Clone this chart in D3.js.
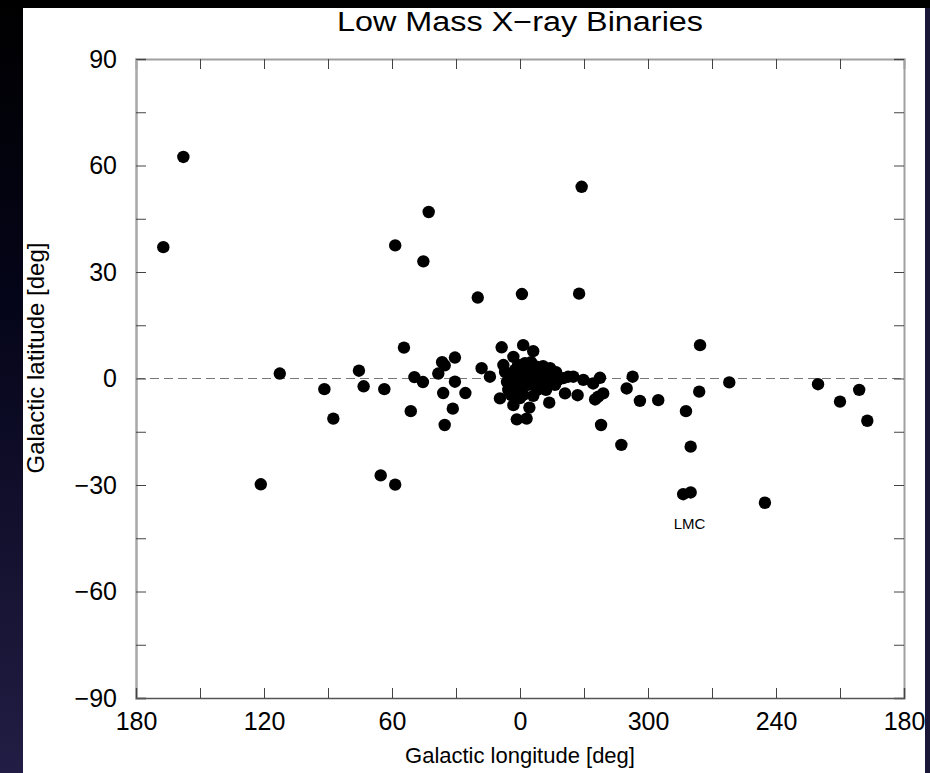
<!DOCTYPE html>
<html>
<head>
<meta charset="utf-8">
<script src="https://cdn.jsdelivr.net/npm/d3@7"></script>
<style>
	body { margin: 0; background: #000; }
	svg { display: block; }
	text { font-family: "Liberation Sans", Arial, sans-serif; fill: #000; }
</style>
</head>
<body>
<div id="chart"></div>
<script>
// Galactic longitude (deg, 0..360) and latitude (deg) of each source
var longitude = [
	167.2, 157.8, 121.5, 112.6, 91.7, 87.5, 75.5, 73.3, 54.4, 65.3,
	63.6, 58.5, 58.5, 51.2, 49.5, 45.5, 45.3, 42.8, 38.3, 36.5,
	35.3, 30.5, 36.0, 30.5, 25.6, 31.5, 35.3, 19.8, 18.0, 14.1,
	8.6, 7.8, 9.4, 3.1, 5.5, 3.1, 1.5, 359.1, 358.5, 356.9,
	355.6, 353.8, 357.7, 352.2, 358.5, 353.8, 346.3, 345.9, 339.7, 338.9,
	337.4, 335.0, 333.0, 331.1, 332.3, 330.3, 325.7, 324.8, 323.3, 322.5,
	321.0, 322.0, 312.5, 310.0, 307.2, 303.8, 295.2, 282.2, 280.0, 283.5,
	280.0, 275.6, 276.0, 261.9, 245.2, 220.3, 210.0, 201.0, 197.2,
	// galactic centre crowd
	7.0, 4.7, 3.8, 6.1, 2.3, 0.9, 0.0, 359.1, 357.7, 356.7,
	356.25, 355.3, 354.4, 353.0, 352.0, 350.6, 349.7, 348.3, 346.9, 345.0,
	343.6, 342.2, 0.9, 354.8, 349.2, 4.2, 0.0, 352.0, 347.8, 343.1
];
var latitude = [
	37.0, 62.4, -29.8, 1.4, -3.0, -11.3, 2.2, -2.2, 8.7, -27.3,
	-3.0, 37.5, -29.9, -9.2, 0.4, -1.0, 33.0, 46.9, 1.4, 4.6,
	3.7, 5.9, -4.1, -0.9, -4.1, -8.5, -13.1, 22.8, 2.9, 0.5,
	8.8, 3.8, -5.6, 6.1, -3.2, -7.5, -11.5, 23.8, 9.4, -11.3,
	-8.2, 7.7, 4.3, 3.3, -4.6, -4.9, -6.8, 2.9, 0.1, -4.2,
	0.5, 0.5, -4.7, 54.0, 23.9, -0.4, -1.4, -5.9, -5.1, 0.2,
	-4.2, -13.1, -18.7, -2.8, 0.5, -6.3, -6.1, -9.2, -19.2, -32.6,
	-32.1, 9.4, -3.7, -1.1, -35.0, -1.6, -6.5, -3.2, -11.9,
	1.8, 0.1, -1.8, -1.0, 2.4, -0.4, -2.7, 1.0, -0.4, 2.4,
	-1.8, 0.1, 1.8, -1.0, 0.7, 1.8, -0.4, 1.0, -1.0, 0.1,
	-1.8, -0.4, 3.8, 4.6, 3.5, -4.6, -5.5, -3.2, -3.2, 1.8
];

var xTicks = [180, 150, 120, 90, 60, 30, 0, -30, -60, -90, -120, -150, -180],
	yTicks = [-90, -75, -60, -45, -30, -15, 0, 15, 30, 45, 60, 75, 90];

var labels = [{ text: "LMC", l: 280.5, b: -42.5 }];

var chart = {
	create : function(config) {
		var _width = config.width,
			_height = config.height;

		var plot = {
			left: 136,
			right: 904,
			top: 59,
			bottom: 698
		};

		var svg = d3.select("#chart").append("svg")
			.attr("width", _width)
			.attr("height", _height);

		// slide background
		var grad = svg.append("defs").append("linearGradient")
			.attr("id", "bg")
			.attr("x1", 0).attr("y1", 0).attr("x2", 0).attr("y2", 1);
		grad.append("stop").attr("offset", "0%").attr("stop-color", "#000");
		grad.append("stop").attr("offset", "40%").attr("stop-color", "#05051a");
		grad.append("stop").attr("offset", "100%").attr("stop-color", "#221d44");

		svg.append("rect")
			.attr("width", _width)
			.attr("height", _height)
			.attr("fill", "url(#bg)");

		// white page
		svg.append("rect")
			.attr("x", 23)
			.attr("y", 8)
			.attr("width", 902)
			.attr("height", _height - 8)
			.attr("fill", "#fff");

		// longitude wraps: 0..180 on the left, 360..180 on the right
		var x = d3.scaleLinear().domain([180, -180]).range([plot.left, plot.right]),
			y = d3.scaleLinear().domain([-90, 90]).range([plot.bottom, plot.top]);

		function wrap(l) {
			return l > 180 ? l - 360 : l;
		}

		var points = longitude.map(function(l, i) {
			return { l: l, b: latitude[i] };
		});

		// zero latitude
		svg.append("line")
			.attr("x1", plot.left).attr("x2", plot.right)
			.attr("y1", y(0)).attr("y2", y(0))
			.attr("stroke", "#777")
			.attr("stroke-width", 1.2)
			.attr("stroke-dasharray", "9,5");

		// Axes
		var bottomAxis = d3.axisBottom(x)
			.tickValues(xTicks)
			.tickSize(-10)
			.tickPadding(14)
			.tickFormat(function(d) {
				if (d % 60 !== 0) return "";
				return d < 0 ? d + 360 : d;
			});
		var topAxis = d3.axisTop(x).tickValues(xTicks).tickSize(-10).tickFormat("");
		var leftAxis = d3.axisLeft(y)
			.tickValues(yTicks)
			.tickSize(-10)
			.tickPadding(19)
			.tickFormat(function(d) {
				return d % 30 === 0 ? d3.format("d")(d) : "";
			});
		var rightAxis = d3.axisRight(y).tickValues(yTicks).tickSize(-10).tickFormat("");

		function styleAxis(g, lineColor, lineWidth) {
			g.select(".domain").attr("stroke", lineColor).attr("stroke-width", lineWidth);
			g.selectAll(".tick line").attr("stroke", "#444");
			g.selectAll(".tick text")
				.style("font-family", "'Liberation Sans', Arial, sans-serif")
				.style("font-size", "25px")
				.attr("fill", "#000");
		}

		svg.append("g")
			.attr("transform", "translate(0," + plot.top + ")")
			.call(topAxis)
			.call(styleAxis, "#a0a0a0", 2);
		svg.append("g")
			.attr("transform", "translate(" + plot.right + ",0)")
			.call(rightAxis)
			.call(styleAxis, "#a0a0a0", 2);
		svg.append("g")
			.attr("transform", "translate(" + plot.left + ",0)")
			.call(leftAxis)
			.call(styleAxis, "#a8a8a8", 2.5);
		svg.append("g")
			.attr("transform", "translate(0," + plot.bottom + ")")
			.call(bottomAxis)
			.call(styleAxis, "#555", 1.5);

		// Sources
		svg.selectAll("circle.src")
			.data(points)
			.enter()
			.append("circle")
			.attr("class", "src")
			.attr("cx", function(d) { return x(wrap(d.l)); })
			.attr("cy", function(d) { return y(d.b); })
			.attr("r", 6.2)
			.attr("fill", "#000");

		svg.selectAll("text.note")
			.data(labels)
			.enter()
			.append("text")
			.attr("class", "note")
			.attr("x", function(d) { return x(wrap(d.l)); })
			.attr("y", function(d) { return y(d.b); })
			.attr("text-anchor", "middle")
			.style("font-size", "15px")
			.text(function(d) { return d.text; });

		// Titles
		svg.append("text")
			.attr("x", (plot.left + plot.right) / 2)
			.attr("y", 31)
			.attr("text-anchor", "middle")
			.attr("textLength", 366)
			.attr("lengthAdjust", "spacingAndGlyphs")
			.style("font-size", "27px")
			.text("Low Mass X\u2212ray Binaries");

		svg.append("text")
			.attr("x", (plot.left + plot.right) / 2)
			.attr("y", 763)
			.attr("text-anchor", "middle")
			.style("font-size", "22px")
			.text("Galactic longitude [deg]");

		svg.append("text")
			.attr("transform", "translate(44,358) rotate(-90)")
			.attr("text-anchor", "middle")
			.style("font-size", "24px")
			.text("Galactic latitude [deg]");

		// dark edge on the right clips the last tick label, as on the slide
		svg.append("rect")
			.attr("x", 925)
			.attr("y", 0)
			.attr("width", _width - 925)
			.attr("height", _height)
			.attr("fill", "#1a1836");
		svg.append("rect")
			.attr("x", 0)
			.attr("y", 0)
			.attr("width", _width)
			.attr("height", 8)
			.attr("fill", "#000");
	}
};

chart.create({ width: 930, height: 773 });
</script>
</body>
</html>
